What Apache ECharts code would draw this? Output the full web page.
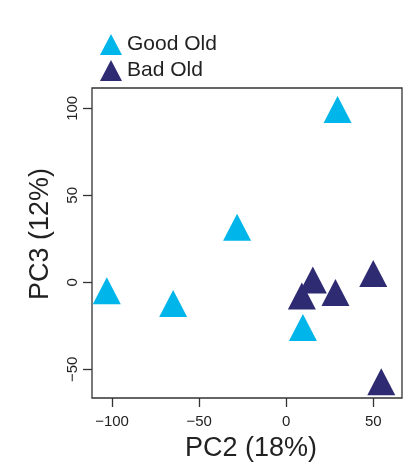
<!DOCTYPE html>
<html><head><meta charset="utf-8">
<script src="https://cdn.jsdelivr.net/npm/echarts@6/dist/echarts.min.js"></script>
<style>html,body{margin:0;padding:0;background:#fff}#c{width:417px;height:469px}</style>
</head><body><div id="c"></div>
<script>
const seriesNames = ['Good Old', 'Bad Old'];
const goodOld = [[29.5, 96.8], [-28.2, 29.1], [-103.0, -7.4], [-64.9, -14.7], [9.6, -28.5]];
const badOld = [[15.3, -1.2], [9.0, -10.4], [28.3, -8.5], [50.0, 2.5], [54.6, -59.8]];
const xTicks = [-100, -50, 0, 50];
const yTicks = [-50, 0, 50, 100];
const xName = 'PC2 (18%)';
const yName = 'PC3 (12%)';
const colors = ['#00B5EA', '#2E2B72'];

const font = 'Liberation Sans, Arial, Helvetica, sans-serif';
const chart = echarts.init(document.getElementById('c'));
const sym = { symbol: 'triangle', symbolSize: [28, 27], symbolOffset: [0, -4.5] };
chart.setOption({
  animation: false,
  grid: { left: 92, right: 15, top: 88, bottom: 71, show: true, borderColor: '#333', borderWidth: 1.3, backgroundColor: 'transparent' },
  legend: {
    orient: 'vertical', left: 95, top: 29, itemWidth: 22, itemHeight: 21, itemGap: 5,
    icon: 'triangle',
    textStyle: { fontFamily: font, fontSize: 21, color: '#222', padding: [0, 0, 0, 0] },
    data: seriesNames
  },
  xAxis: {
    type: 'value', min: -111.5, max: 66.5,
    splitLine: { show: false },
    axisLine: { show: false, onZero: false },
    axisTick: { show: true, length: 9, customValues: xTicks, lineStyle: { color: '#333', width: 1.3 } },
    axisLabel: { customValues: xTicks, margin: 16, fontFamily: font, fontSize: 15, color: '#222',
      formatter: v => (v < 0 ? '\u2212' + Math.abs(v) : '' + v) },
    name: xName, nameLocation: 'middle', nameGap: 37,
    nameTextStyle: { fontFamily: font, fontSize: 27, color: '#222', padding: [0, 0, 0, 8] }
  },
  yAxis: {
    type: 'value', min: -66.5, max: 111.7,
    splitLine: { show: false },
    axisLine: { show: false, onZero: false },
    axisTick: { show: true, length: 9, customValues: yTicks, lineStyle: { color: '#333', width: 1.3 } },
    axisLabel: { customValues: yTicks, rotate: 90, margin: 12, fontFamily: font, fontSize: 15, color: '#222',
      formatter: v => (v < 0 ? '\u2212' + Math.abs(v) : '' + v) },
    name: yName, nameLocation: 'middle', nameGap: 38,
    nameTextStyle: { fontFamily: font, fontSize: 27, color: '#222', padding: [0, 0, 0, 18] }
  },
  series: [
    Object.assign({ name: seriesNames[0], type: 'scatter', data: goodOld, itemStyle: { color: colors[0], opacity: 1 } }, sym),
    Object.assign({ name: seriesNames[1], type: 'scatter', data: badOld, itemStyle: { color: colors[1], opacity: 1 } }, sym)
  ]
});
</script></body></html>
